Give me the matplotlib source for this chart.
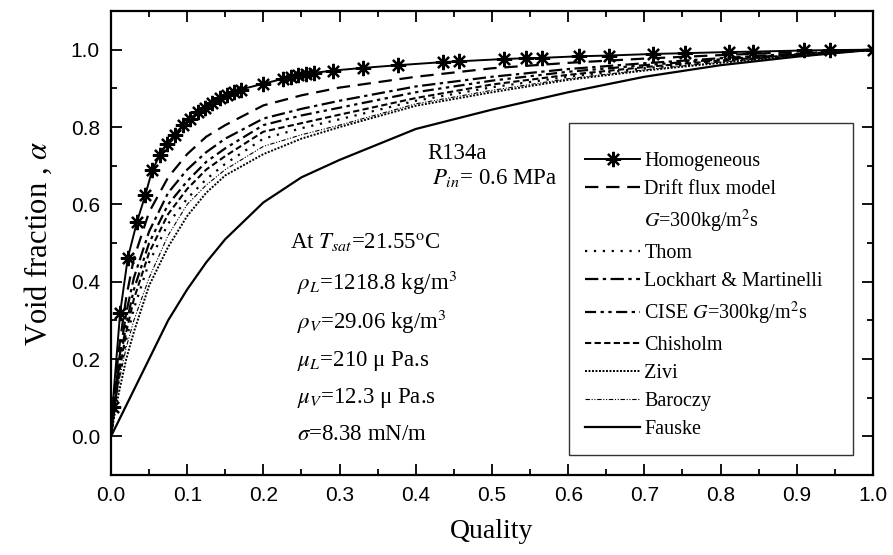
import matplotlib
matplotlib.use("Agg")
import matplotlib.pyplot as plt
from matplotlib.lines import Line2D
from matplotlib.ticker import MultipleLocator

plt.rcParams['font.family'] = ['Liberation Serif', 'DejaVu Serif']
plt.rcParams['mathtext.fontset'] = 'stix'

# ---- data ----
homog_x = [0.0, 0.002, 0.012, 0.022, 0.034, 0.045, 0.054, 0.064, 0.073, 0.084, 0.094, 0.104,
           0.114, 0.123, 0.133, 0.143, 0.152, 0.161, 0.17, 0.2, 0.226, 0.236, 0.246, 0.256,
           0.266, 0.291, 0.331, 0.377, 0.436, 0.457, 0.516, 0.545, 0.566, 0.614, 0.654,
           0.711, 0.753, 0.811, 0.843, 0.909, 0.944, 1.0]
homog_y = [0.0, 0.077, 0.32, 0.461, 0.554, 0.624, 0.688, 0.727, 0.757, 0.78, 0.804, 0.822,
           0.838, 0.85, 0.861, 0.874, 0.882, 0.89, 0.897, 0.912, 0.925, 0.93, 0.934, 0.937,
           0.94, 0.946, 0.953, 0.96, 0.968, 0.97, 0.976, 0.978, 0.979, 0.983, 0.985,
           0.989, 0.991, 0.994, 0.995, 0.998, 0.999, 1.0]

quality = [0, 0.005, 0.01, 0.02, 0.03, 0.05, 0.075, 0.1, 0.125, 0.15, 0.2, 0.25, 0.3,
           0.4, 0.5, 0.6, 0.7, 0.8, 0.9, 1.0]
drift    = [0, 0.12, 0.22, 0.36, 0.46, 0.58, 0.67, 0.73, 0.775, 0.805, 0.856, 0.882, 0.902,
            0.93, 0.952, 0.966, 0.977, 0.986, 0.994, 1.0]
thom     = [0, 0.07, 0.14, 0.25, 0.33, 0.45, 0.55, 0.615, 0.665, 0.705, 0.77, 0.797, 0.82,
            0.868, 0.903, 0.93, 0.952, 0.97, 0.986, 1.0]
lockhart = [0, 0.10, 0.19, 0.32, 0.41, 0.53, 0.63, 0.69, 0.735, 0.77, 0.822, 0.847, 0.868,
            0.905, 0.93, 0.95, 0.965, 0.978, 0.99, 1.0]
cise     = [0, 0.09, 0.17, 0.29, 0.38, 0.50, 0.60, 0.66, 0.71, 0.745, 0.805, 0.83, 0.85,
            0.89, 0.92, 0.943, 0.96, 0.975, 0.988, 1.0]
chisholm = [0, 0.08, 0.155, 0.27, 0.355, 0.475, 0.575, 0.64, 0.69, 0.725, 0.788, 0.81, 0.832,
            0.875, 0.91, 0.935, 0.955, 0.972, 0.987, 1.0]
zivi     = [0, 0.06, 0.11, 0.20, 0.27, 0.39, 0.49, 0.57, 0.63, 0.675, 0.73, 0.77, 0.80,
            0.855, 0.89, 0.922, 0.946, 0.966, 0.984, 1.0]
baroczy  = [0, 0.08, 0.14, 0.23, 0.30, 0.41, 0.52, 0.60, 0.65, 0.69, 0.75, 0.78, 0.805,
            0.86, 0.895, 0.925, 0.948, 0.968, 0.985, 1.0]
fauske   = [0, 0.02, 0.04, 0.08, 0.12, 0.20, 0.30, 0.38, 0.45, 0.51, 0.605, 0.67, 0.715,
            0.795, 0.845, 0.89, 0.93, 0.96, 0.982, 1.0]

x_ticks = [0.0, 0.1, 0.2, 0.3, 0.4, 0.5, 0.6, 0.7, 0.8, 0.9, 1.0]
y_ticks = [0.0, 0.2, 0.4, 0.6, 0.8, 1.0]

fig = plt.figure(figsize=(8.93, 5.55), dpi=100)
ax = fig.add_axes([0.1243, 0.1441, 0.8533, 0.836])

ast = (8, 2, 0)
ax.plot(homog_x, homog_y, color='black', lw=1.4, marker=ast, markersize=11,
        markeredgewidth=1.6, markevery=slice(1, None), label='Homogeneous')
ax.plot(quality, drift, color='black', lw=1.6, linestyle=(0, (6, 3.5)), label='Drift flux model')
ax.plot(quality, thom, color='black', lw=1.6, linestyle=(0, (1, 3)), label='Thom')
ax.plot(quality, lockhart, color='black', lw=1.6, linestyle=(0, (6, 2, 1.5, 2)), label='Lockhart & Martinelli')
ax.plot(quality, cise, color='black', lw=1.6, linestyle=(0, (5, 2, 1.5, 2, 1.5, 2)), label='CISE $G$=300kg/m$^2$s')
ax.plot(quality, chisholm, color='black', lw=1.5, linestyle=(0, (3, 1.6)), label='Chisholm')
ax.plot(quality, zivi, color='black', lw=1.4, linestyle=(0, (1, 0.8)), label='Zivi')
ax.plot(quality, baroczy, color='black', lw=0.8, linestyle=(0, (4, 1.5, 1, 1.5, 1, 1.5)), label='Baroczy')
ax.plot(quality, fauske, color='black', lw=1.6, label='Fauske')

ax.set_xlim(0, 1.0)
ax.set_ylim(-0.1, 1.1)
ax.set_xticks(x_ticks)
ax.set_yticks(y_ticks)
ax.xaxis.set_minor_locator(MultipleLocator(0.05))
ax.yaxis.set_minor_locator(MultipleLocator(0.1))
ax.set_xticklabels([f"{v:.1f}" for v in x_ticks], family='Liberation Sans', fontsize=15)
ax.set_yticklabels([f"{v:.1f}" for v in y_ticks], family='Liberation Sans', fontsize=15)
ax.tick_params(which='both', direction='in', top=True, right=True, width=1.3)
ax.tick_params(which='major', length=8, pad=8)
ax.tick_params(which='minor', length=4)
for s in ax.spines.values():
    s.set_linewidth(1.6)

ax.set_xlabel('Quality', fontsize=20, labelpad=10)
ax.set_ylabel('Void fraction , $\\alpha$', fontsize=22, labelpad=12)

# annotations
tk = dict(fontsize=16.5, va='center', ha='left')
ax.text(0.415, 0.732, 'R134a', **tk)
ax.text(0.421, 0.667, '$P_{in}$= 0.6 MPa', **tk)
ax.text(0.235, 0.50, 'At $T_{sat}$=21.55$^{\\rm o}$C', **tk)
ax.text(0.244, 0.397, '$\\rho_L$=1218.8 kg/m$^3$', **tk)
ax.text(0.244, 0.296, '$\\rho_V$=29.06 kg/m$^3$', **tk)
ax.text(0.244, 0.196, '$\\mu_L$=210 μ Pa.s', **tk)
ax.text(0.244, 0.100, '$\\mu_V$=12.3 μ Pa.s', **tk)
ax.text(0.244, 0.005, '$\\sigma$=8.38 mN/m', **tk)

handles, labels = ax.get_legend_handles_labels()
blank = Line2D([], [], linestyle='none')
handles.insert(2, blank)
labels.insert(2, '$G$=300kg/m$^2$s')
leg = ax.legend(handles, labels, loc='lower left', bbox_to_anchor=(0.601, 0.043, 0.373, 0.709),
                mode='expand', fontsize=14.5, numpoints=1, handlelength=2.75, handletextpad=0.2,
                labelspacing=0.44, borderpad=0.8, borderaxespad=0, fancybox=False, frameon=True,
                edgecolor='black', title=' ', title_fontsize=2)
leg.get_frame().set_linewidth(1.0)

fig.savefig('out.png', dpi=100)
